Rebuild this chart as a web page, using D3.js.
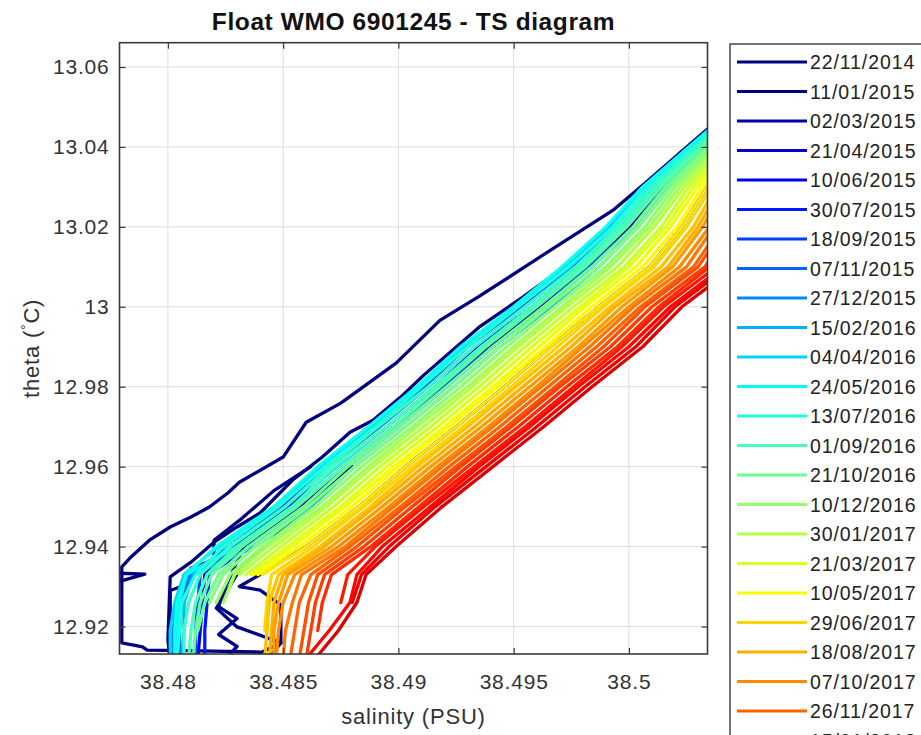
<!DOCTYPE html>
<html><head><meta charset="utf-8">
<script src="https://cdn.jsdelivr.net/npm/d3@7"></script>
<style>body{margin:0;background:#fff}svg{display:block}</style>
</head><body>
<svg id="c" width="921" height="735"></svg>
<script>
// ---------------- data ----------------
const chartTitle = "Float WMO 6901245 - TS diagram";
const xLabel = "salinity (PSU)";
const salTicks = [38.48, 38.485, 38.49, 38.495, 38.5];
const salTickLabels = ["38.48", "38.485", "38.49", "38.495", "38.5"];
const thetaTicks = [12.92, 12.94, 12.96, 12.98, 13.00, 13.02, 13.04, 13.06];
const thetaTickLabels = ["12.92", "12.94", "12.96", "12.98", "13", "13.02", "13.04", "13.06"];
const legendDates = ["22/11/2014","11/01/2015","02/03/2015","21/04/2015","10/06/2015","30/07/2015",
  "18/09/2015","07/11/2015","27/12/2015","15/02/2016","04/04/2016","24/05/2016","13/07/2016",
  "01/09/2016","21/10/2016","10/12/2016","30/01/2017","21/03/2017","10/05/2017","29/06/2017",
  "18/08/2017","07/10/2017","26/11/2017","15/01/2018"];

// common potential-temperature levels used by most profiles
const thetaGrid = [13.052, 13.04, 13.03, 13.02, 13.01, 13.00, 12.99, 12.98, 12.97, 12.96, 12.95, 12.94, 12.933, 12.926, 12.919, 12.912];
// time position (in legend steps) of each gridded profile
const gridProfileK = [4,5,6,7,8,9,10,11, 11.5,12,12.5,13,13.5,14,14.5,15,15.5,16,16.5,17,17.5,18,18.5,19,19.5,20,20.5,21,21.5,22,22.5,23,23.5,24,24.5,25,25.5];
const gridProfileSal = [
 [38.5053,38.5030,38.5012,38.4997,38.4979,38.4958,38.4935,38.4916,38.4895,38.4873,38.4853,38.4829,38.4816,38.4815,38.4814,38.4813],
 [38.5055,38.5034,38.5016,38.5002,38.4984,38.4963,38.4941,38.4921,38.4900,38.4878,38.4859,38.4835,38.4818,38.4817,38.4816,38.4816],
 [38.5051,38.5028,38.5008,38.4992,38.4974,38.4953,38.4930,38.4911,38.4890,38.4868,38.4849,38.4824,38.4814,38.4813,38.4812,38.4812],
 [38.5054,38.5032,38.5014,38.4999,38.4982,38.4960,38.4938,38.4919,38.4898,38.4876,38.4856,38.4832,38.4810,38.4806,38.4805,38.4805],
 [38.5052,38.5029,38.5010,38.4995,38.4976,38.4955,38.4933,38.4913,38.4892,38.4870,38.4851,38.4827,38.4809,38.4804,38.4802,38.4802],
 [38.5056,38.5035,38.5018,38.5004,38.4987,38.4966,38.4944,38.4924,38.4903,38.4881,38.4862,38.4838,38.4811,38.4807,38.4807,38.4806],
 [38.5051,38.5027,38.5007,38.4991,38.4972,38.4951,38.4928,38.4909,38.4888,38.4866,38.4847,38.4822,38.4807,38.4803,38.4801,38.4801],
 [38.5053,38.5031,38.5012,38.4997,38.4980,38.4958,38.4936,38.4916,38.4895,38.4873,38.4854,38.4830,38.4808,38.4805,38.4804,38.4804],
 [38.5050,38.5026,38.5006,38.4990,38.4971,38.4950,38.4927,38.4908,38.4887,38.4865,38.4846,38.4821,38.4808,38.4804,38.4803,38.4803],
 [38.5051,38.5028,38.5008,38.4993,38.4974,38.4952,38.4930,38.4910,38.4890,38.4868,38.4848,38.4824,38.4812,38.4806,38.4805,38.4804],
 [38.5052,38.5029,38.5010,38.4995,38.4977,38.4955,38.4933,38.4913,38.4891,38.4870,38.4851,38.4827,38.4814,38.4809,38.4807,38.4807],
 [38.5053,38.5031,38.5012,38.4997,38.4979,38.4958,38.4936,38.4916,38.4895,38.4872,38.4854,38.4830,38.4817,38.4812,38.4810,38.4809],
 [38.5054,38.5032,38.5014,38.4999,38.4981,38.4960,38.4938,38.4918,38.4898,38.4876,38.4856,38.4832,38.4819,38.4814,38.4812,38.4811],
 [38.5055,38.5034,38.5016,38.5002,38.4984,38.4963,38.4941,38.4921,38.4900,38.4878,38.4859,38.4835,38.4822,38.4816,38.4813,null],
 [38.5056,38.5035,38.5018,38.5004,38.4987,38.4965,38.4944,38.4924,38.4903,38.4881,38.4861,38.4838,38.4824,38.4818,null,null],
 [38.5057,38.5037,38.5020,38.5007,38.4990,38.4968,38.4947,38.4927,38.4906,38.4884,38.4864,38.4841,38.4827,38.4821,null,null],
 [38.5059,38.5038,38.5022,38.5009,38.4992,38.4971,38.4950,38.4930,38.4908,38.4887,38.4867,38.4843,38.4829,38.4824,null,null],
 [38.5060,38.5040,38.5024,38.5011,38.4995,38.4973,38.4952,38.4932,38.4911,38.4889,38.4869,38.4846,38.4831,null,null,null],
 [38.5061,38.5041,38.5026,38.5014,38.4998,38.4976,38.4955,38.4935,38.4914,38.4892,38.4872,38.4849,38.4834,null,null,null],
 [38.5062,38.5043,38.5028,38.5016,38.5000,38.4979,38.4958,38.4938,38.4917,38.4895,38.4875,38.4852,38.4836,null,null,null],
 [38.5063,38.5044,38.5030,38.5018,38.5003,38.4981,38.4961,38.4941,38.4920,38.4898,38.4877,38.4854,38.4837,null,null,null],
 [38.5064,38.5046,38.5032,38.5021,38.5006,38.4984,38.4964,38.4943,38.4922,38.4900,38.4880,38.4857,38.4839,null,null,null],
 [38.5065,38.5047,38.5034,38.5023,38.5009,38.4987,38.4966,38.4946,38.4925,38.4903,38.4883,38.4860,38.4841,null,null,null],
 [38.5066,38.5049,38.5036,38.5025,38.5011,38.4989,38.4969,38.4949,38.4928,38.4906,38.4885,38.4863,38.4845,38.4843,38.4842,null],
 [38.5067,38.5050,38.5038,38.5028,38.5014,38.4992,38.4972,38.4951,38.4930,38.4908,38.4888,38.4866,38.4848,38.4844,38.4843,38.4842],
 [38.5068,38.5052,38.5040,38.5030,38.5017,38.4994,38.4975,38.4954,38.4933,38.4911,38.4890,38.4868,38.4850,38.4846,38.4845,38.4844],
 [38.5069,38.5053,38.5042,38.5032,38.5019,38.4997,38.4978,38.4957,38.4936,38.4914,38.4893,38.4871,38.4852,38.4848,38.4846,38.4846],
 [38.5070,38.5055,38.5044,38.5035,38.5022,38.5000,38.4980,38.4960,38.4939,38.4917,38.4896,38.4874,38.4855,38.4850,38.4848,38.4847],
 [38.5071,38.5056,38.5046,38.5037,38.5025,38.5002,38.4983,38.4962,38.4941,38.4919,38.4898,38.4877,38.4858,38.4854,38.4851,38.4850],
 [38.5072,38.5058,38.5048,38.5040,38.5028,38.5005,38.4986,38.4965,38.4944,38.4922,38.4901,38.4879,38.4862,38.4857,38.4855,38.4853],
 [38.5074,38.5059,38.5050,38.5042,38.5030,38.5007,38.4989,38.4968,38.4947,38.4925,38.4903,38.4882,38.4865,38.4861,38.4859,38.4857],
 [38.5075,38.5061,38.5052,38.5044,38.5033,38.5010,38.4992,38.4970,38.4949,38.4927,38.4906,38.4885,38.4868,38.4864,38.4862,38.4860],
 [38.5076,38.5062,38.5054,38.5047,38.5035,38.5013,38.4995,38.4973,38.4952,38.4930,38.4909,38.4888,38.4871,38.4867,38.4865,null],
 [38.5077,38.5064,38.5056,38.5049,38.5038,38.5015,38.4997,38.4976,38.4955,38.4933,38.4911,38.4890,38.4878,38.4875,null,null],
 [38.5078,38.5065,38.5058,38.5051,38.5041,38.5018,38.5000,38.4978,38.4957,38.4935,38.4914,38.4893,38.4882,38.4879,38.4870,38.4860],
 [38.5079,38.5067,38.5060,38.5054,38.5043,38.5020,38.5003,38.4981,38.4960,38.4938,38.4916,38.4896,38.4884,38.4880,null,null],
 [38.5080,38.5068,38.5062,38.5056,38.5046,38.5023,38.5006,38.4984,38.4963,38.4941,38.4919,38.4899,38.4886,38.4882,38.4874,38.4864]
];

// early (dark blue) profiles with their own levels
const navyProfileK = [0, 0.3, 0.6, 0.8, 1, 1.2, 1.5];
const navyProfileTheta = [
 [13.0449,13.0384,13.0314,13.0241,13.0134,13.0026,12.9966,12.9859,12.9759,12.9711,12.9624,12.9561,12.9534,12.9499,12.9474,12.9449,12.9416,12.9374,12.9349,12.9159,12.9149,12.9141,12.9139,12.9136],
 [12.9335,12.9331,12.9313,12.9305],
 [13.0441,13.0384,13.0304,13.0129,13.0024,12.9949,12.9829,12.9774,12.9716,12.9686,12.9624,12.9566,12.9484,12.9449,12.9411,12.9361,12.9324,12.9166,12.9116],
 [12.9600,12.9540,12.9470,12.9416,12.9366,12.9346,12.9309,12.9290,12.9200],
 [13.052,13.04,13.03,13.02,13.01,13.00,12.99,12.98,12.97,12.96,12.95,12.94,12.933,12.930,12.9291,12.9254,12.9159,12.9130],
 [12.9600,12.9500,12.9400,12.9350,12.9246,12.9199,12.9159,12.9120],
 [13.052,13.04,13.03,13.02,13.01,13.00,12.99,12.98,12.97,12.96,12.95,12.94,12.93,12.925,12.922,12.918,12.915,12.912]
];
const navyProfileSal = [
 [38.5035,38.5022,38.5008,38.4993,38.4964,38.4935,38.4918,38.4899,38.4875,38.4860,38.4850,38.4831,38.4826,38.4818,38.4810,38.4801,38.4792,38.4784,38.4780,38.4780,38.4789,38.4791,38.4814,38.4840],
 [38.4770,38.4790,38.4779,38.4770],
 [38.5035,38.5022,38.5008,38.4979,38.4954,38.4935,38.4911,38.4901,38.4889,38.4879,38.4867,38.4854,38.4840,38.4830,38.4820,38.4810,38.4801,38.4800,38.4801],
 [38.4862,38.4846,38.4832,38.4820,38.4820,38.4810,38.4810,38.4801,38.4801],
 [38.5065,38.5047,38.5034,38.5023,38.5009,38.4987,38.4966,38.4946,38.4925,38.4903,38.4883,38.4860,38.4840,38.4831,38.4840,38.4849,38.4849,38.4845],
 [38.4880,38.4860,38.4842,38.4832,38.4821,38.4830,38.4849,38.4835],
 [38.5055,38.5032,38.5014,38.5000,38.4982,38.4961,38.4939,38.4920,38.4899,38.4877,38.4857,38.4833,38.4825,38.4822,38.4830,38.4822,38.4830,38.4825]
];

// ---------------- drawing ----------------
const W = 921, H = 735;
const FONT = "'Liberation Sans', Arial, Helvetica, sans-serif";
const plot = {left: 119.5, right: 707.5, top: 42.7, bottom: 654};
const x = d3.scaleLinear().domain([38.4779, 38.50341]).range([plot.left, plot.right]);
const y = d3.scaleLinear().domain([12.91312, 13.06608]).range([plot.bottom, plot.top]);
// colormap position: legend step -> jet fraction
const colorPos = d3.scaleLinear().domain([1, 28]).range([0, 1]).clamp(true);
function jet(f) {
  const c = v => Math.max(0, Math.min(1, v));
  return d3.rgb(255 * c(1.5 - Math.abs(4 * f - 3)), 255 * c(1.5 - Math.abs(4 * f - 2)), 255 * c(1.5 - Math.abs(4 * f - 1))).formatHex();
}
const colorOf = k => jet(colorPos(k));

const svg = d3.select("#c");
svg.append("rect").attr("width", W).attr("height", H).attr("fill", "#fff");

// grid
const grid = svg.append("g").attr("stroke", "#dedede").attr("stroke-width", 1);
grid.selectAll("line.v").data(salTicks).join("line").attr("class", "v")
  .attr("x1", d => x(d)).attr("x2", d => x(d)).attr("y1", plot.top).attr("y2", plot.bottom);
grid.selectAll("line.h").data(thetaTicks).join("line").attr("class", "h")
  .attr("x1", plot.left).attr("x2", plot.right).attr("y1", d => y(d)).attr("y2", d => y(d));

// clip
svg.append("defs").append("clipPath").attr("id", "clip").append("rect")
  .attr("x", plot.left).attr("y", plot.top).attr("width", plot.right - plot.left).attr("height", plot.bottom - plot.top);

// profiles
const profiles = [];
navyProfileK.forEach((k, i) => profiles.push({k, pts: navyProfileSal[i].map((s, j) => [s, navyProfileTheta[i][j]])}));
gridProfileK.forEach((k, i) => profiles.push({k, pts: gridProfileSal[i].map((s, j) => [s, thetaGrid[j]])}));
profiles.sort((a, b) => a.k - b.k);
const line = d3.line().defined(d => d[0] != null).x(d => x(d[0])).y(d => y(d[1]));
svg.append("g").attr("clip-path", "url(#clip)")
  .selectAll("path").data(profiles).join("path")
  .attr("d", d => line(d.pts)).attr("fill", "none")
  .attr("stroke", d => colorOf(d.k)).attr("stroke-width", 3.3)
  .attr("stroke-linejoin", "round").attr("stroke-linecap", "round");

// axes
const axColor = "#3a3a3a";
function styleAxis(g) {
  g.select(".domain").remove();
  g.selectAll(".tick line").attr("stroke", axColor).attr("stroke-width", 1.2);
  g.selectAll(".tick text").attr("fill", "#333").style("font-family", FONT).style("font-size", "21px").style("letter-spacing", "0.8px");
}
svg.append("g").attr("transform", `translate(0,${plot.bottom})`)
  .call(d3.axisBottom(x).tickValues(salTicks).tickFormat((d, i) => salTickLabels[i]).tickSizeInner(-6).tickSizeOuter(0).tickPadding(20))
  .call(styleAxis);
svg.append("g").attr("transform", `translate(0,${plot.top})`)
  .call(d3.axisTop(x).tickValues(salTicks).tickFormat("").tickSizeInner(-6).tickSizeOuter(0))
  .call(styleAxis);
svg.append("g").attr("transform", `translate(${plot.left},0)`)
  .call(d3.axisLeft(y).tickValues(thetaTicks).tickFormat((d, i) => thetaTickLabels[i]).tickSizeInner(-6).tickSizeOuter(0).tickPadding(10))
  .call(styleAxis);
svg.append("g").attr("transform", `translate(${plot.right},0)`)
  .call(d3.axisRight(y).tickValues(thetaTicks).tickFormat("").tickSizeInner(-6).tickSizeOuter(0))
  .call(styleAxis);
svg.append("rect").attr("x", plot.left).attr("y", plot.top).attr("width", plot.right - plot.left).attr("height", plot.bottom - plot.top)
  .attr("fill", "none").attr("stroke", axColor).attr("stroke-width", 1.6);

// titles
svg.append("text").attr("x", (plot.left + plot.right) / 2).attr("y", 30).attr("text-anchor", "middle")
  .style("font-family", FONT).style("font-size", "24.5px").style("font-weight", "bold").style("letter-spacing", "0.6px")
  .attr("fill", "#111").text(chartTitle);
svg.append("text").attr("x", (plot.left + plot.right) / 2).attr("y", 724).attr("text-anchor", "middle")
  .style("font-family", FONT).style("font-size", "22px").style("letter-spacing", "0.8px").attr("fill", "#333").text(xLabel);
const yl = svg.append("text").attr("transform", `translate(39,${(plot.top + plot.bottom) / 2}) rotate(-90)`).attr("text-anchor", "middle")
  .style("font-family", FONT).style("font-size", "22px").style("letter-spacing", "0.8px").attr("fill", "#333");
yl.append("tspan").text("theta (");
yl.append("tspan").attr("dy", "-8").style("font-size", "14px").text("\u00B0");
yl.append("tspan").attr("dy", "8").text("C)");

// legend
const lg = svg.append("g");
lg.append("rect").attr("x", 730).attr("y", 44).attr("width", 260).attr("height", 900)
  .attr("fill", "#fff").attr("stroke", axColor).attr("stroke-width", 1.4);
const items = lg.selectAll("g.item").data(legendDates).join("g").attr("class", "item")
  .attr("transform", (d, i) => `translate(0,${62 + 29.5 * i})`);
items.append("line").attr("x1", 737).attr("x2", 807).attr("y1", 0).attr("y2", 0)
  .attr("stroke", (d, i) => colorOf(i)).attr("stroke-width", 3);
items.append("text").attr("x", 810).attr("y", 0).attr("dy", "0.36em")
  .style("font-family", FONT).style("font-size", "19.5px").style("letter-spacing", "0.9px").attr("fill", "#222").text(d => d);
</script>
</body></html>
